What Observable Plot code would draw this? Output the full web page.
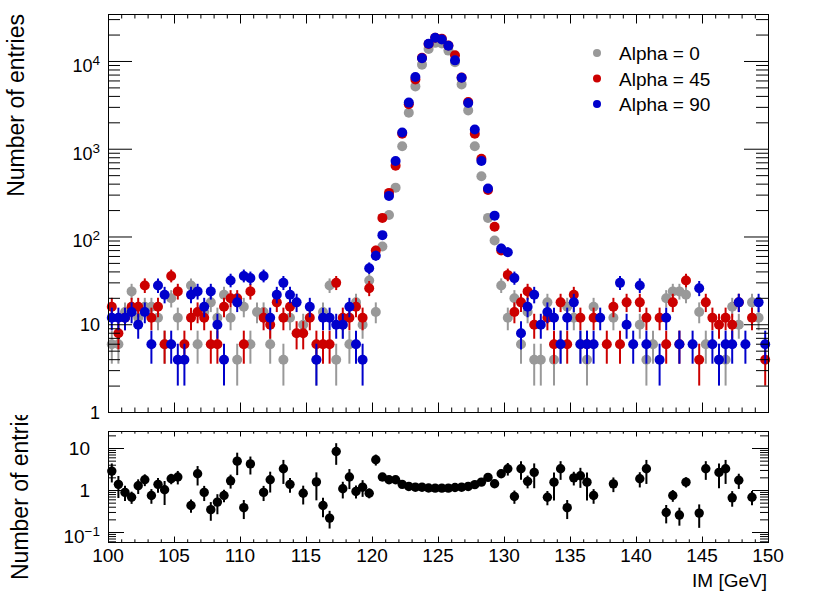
<!DOCTYPE html>
<html><head><meta charset="utf-8">
<script src="https://cdn.jsdelivr.net/npm/d3@7"></script>
<script src="https://cdn.jsdelivr.net/npm/@observablehq/plot@0.6"></script>
<style>
html,body{margin:0;padding:0;background:#fff;}
#chart{position:relative;width:830px;height:596px;overflow:hidden;background:#fff;}
#chart svg{position:absolute;left:0;display:block;overflow:hidden;}
</style></head><body><div id="chart"></div>
<script>
// ---------- data ----------
const binCenters = d3.range(100, 150, 0.5).map(x => x + 0.25);
const seriesNames = ["Alpha = 0", "Alpha = 45", "Alpha = 90"];
const seriesColors = ["#999999", "#cc0000", "#0000cc"];
const alpha0 = [
  6, 6, 14, 24, 12, 16, 16, 12, 6, 20,
  12, null, 28, 6, 14, 18, 12, 22, 12, 4,
  16, 6, 14, 14, 6, null, 4, 12, null, 10,
  null, 4, 14, 28, 4, 10, 6, 18, 10, 32,
  14, 78, 178, 365, 1080, 2600, 5200, 9200, 13900, 16300,
  16000, 13300, 9800, 5480, 2770, 1080, 493, 165, 91, 28,
  12, 20, 6, 14, 4, 4, 18, 4, 6, 16,
  12, 6, 4, 16, null, null, 12, null, null, null,
  10, 4, 6, null, 20, 24, 24, 22, null, 14,
  6, null, 4, 4, 16, 10, null, 18, 12, null
];
const alpha45 = [
  16, 8, 12, 16, 16, 28, 12, 16, 6, 36,
  24, 6, 12, 14, 12, 6, 6, 16, 20, 20,
  6, 24, null, 12, 10, 18, 12, 16, 8, 8,
  12, 6, 6, 6, 30, 12, 12, 16, 12, 26,
  70, 165, 318, 650, 1500, 3250, 6250, 11000, 15800, 18600,
  18200, 15200, 11800, 6580, 3460, 1500, 780, 343, 131, 70,
  37, 14, 18, 24, 10, null, 12, 6, 18, 6,
  22, 12, 6, 12, null, 6, 16, 6, 18, null,
  18, 12, null, 12, 6, 18, 6, 32, null, 4,
  18, 12, 10, 12, 10, 18, null, 12, null, 4
];
const alpha90 = [
  12, 12, 12, 14, 10, 14, 6, 28, 22, 6,
  4, 4, 22, 24, 16, 24, 10, 4, 32, 18,
  36, 34, null, 36, 12, 22, 30, 22, 18, null,
  16, 4, 12, 12, 10, 10, 16, 6, 4, 44,
  61, 105, 294, 736, 1550, 3400, 6640, 10900, 15900, 18600,
  17800, 15100, 10300, 6530, 3360, 1680, 736, 357, 175, 74,
  67, 34, 8, 16, 22, 10, 14, 12, 6, 12,
  18, 6, 6, 6, 12, null, null, 30, 10, 6,
  28, 6, null, 4, 12, null, 6, null, 6, 26,
  null, 6, 4, 6, 6, 18, 6, null, 18, 6
];
const ratio = [
  2.9, 1.4, 0.9, 0.69, 1.3, 1.8, 0.76, 1.4, 1.04, 1.9,
  2.1, null, 0.44, 2.5, 0.9, 0.35, 0.53, 0.76, 1.7, 5.0,
  0.39, 4.3, null, 0.9, 1.8, null, 3.3, 1.4, null, 0.86,
  null, 1.6, 0.44, 0.22, 8.5, 1.1, 2.1, 0.95, 1.2, 0.86,
  5.4, 2.1, 1.8, 1.8, 1.4, 1.25, 1.2, 1.2, 1.15, 1.14,
  1.14, 1.14, 1.18, 1.2, 1.25, 1.38, 1.58, 2.05, 1.45, 2.5,
  3.3, 0.72, 3.3, 1.65, 2.7, null, 0.69, 1.58, 3.3, 0.39,
  2.0, 2.25, 1.58, 0.76, null, null, 1.44, null, null, null,
  1.9, 3.3, null, null, 0.3, 0.76, 0.26, 1.58, null, 0.29,
  3.3, null, 2.7, 3.3, 0.67, 1.75, null, 0.69, null, null
];
const xDomain = [100, 150];
const yTopDomain = [1, 34300];
const yBotDomain = [0.0578, 25.4];
const xMajorTicks = [100, 105, 110, 115, 120, 125, 130, 135, 140, 145, 150];
const xMinorTicks = d3.range(100, 151, 1);
const yTopMajorTicks = [1, 10, 100, 1000, 10000];
const yTopLabels = [["1", ""], ["10", ""], ["10", "2"], ["10", "3"], ["10", "4"]];
const yBotMajorTicks = [0.1, 1, 10];
const yBotLabels = [["10", "\u22121"], ["1", ""], ["10", ""]];
const xTitle = "IM [GeV]";
const yTitle = "Number of entries";

const logMinor = (lo, hi) => {
  const out = [];
  for (let k = -2; k <= 5; k++) for (let m = 2; m <= 9; m++) {
    const v = m * Math.pow(10, k);
    if (v > lo && v < hi) out.push(v);
  }
  return out;
};
const yTopMinorTicks = logMinor(yTopDomain[0], yTopDomain[1]);
const yBotMinorTicks = logMinor(yBotDomain[0], yBotDomain[1]);

// ---------- layout ----------
const W = 830, ML = 108, MR = 62, FW = W - ML - MR;
const topH = 425, topMT = 14, topMB = 13, topFH = topH - topMT - topMB;
const botOffset = 415, botH = 181, botMT = 16, botMB = 54, botFH = botH - botMT - botMB;
const FONT = "'Liberation Sans', Arial, Helvetica, sans-serif";

function ticks(FH, yMaj, yMin, yMajL, yMinL, xMajL, xMinL) {
  return [
    Plot.ruleY(yMaj, {y: d => d, insetRight: FW - yMajL}),
    Plot.ruleY(yMin, {y: d => d, insetRight: FW - yMinL}),
    Plot.ruleY(yMaj, {y: d => d, insetLeft: FW - yMajL}),
    Plot.ruleY(yMin, {y: d => d, insetLeft: FW - yMinL}),
    Plot.ruleX(xMajorTicks, {x: d => d, insetTop: FH - xMajL}),
    Plot.ruleX(xMinorTicks, {x: d => d, insetTop: FH - xMinL}),
    Plot.ruleX(xMajorTicks, {x: d => d, insetBottom: FH - xMajL}),
    Plot.ruleX(xMinorTicks, {x: d => d, insetBottom: FH - xMinL}),
    Plot.frame({stroke: "black"})
  ];
}

// ---------- top panel ----------
const seriesValues = [alpha0, alpha45, alpha90];
const seriesMarks = [];
seriesValues.forEach((vals, k) => {
  const rows = binCenters.map((x, i) => ({x, y: vals[i]})).filter(d => d.y != null);
  seriesMarks.push(Plot.ruleX(rows, {x: "x", y1: d => d.y - Math.sqrt(d.y), y2: d => d.y + Math.sqrt(d.y), stroke: seriesColors[k], strokeWidth: 2}));
  seriesMarks.push(Plot.dot(rows, {x: "x", y: "y", r: 5, fill: seriesColors[k], stroke: "none"}));
});

const topPlot = Plot.plot({
  width: W, height: topH, marginLeft: ML, marginRight: MR, marginTop: topMT, marginBottom: topMB,
  x: {domain: xDomain, axis: null},
  y: {type: "log", domain: yTopDomain, axis: null},
  style: {background: "white", overflow: "hidden"},
  marks: [...seriesMarks, ...ticks(topFH, yTopMajorTicks, yTopMinorTicks, 24, 12, 9.5, 4.5)]
});

// ---------- bottom panel ----------
const ratioRows = binCenters.map((x, i) => {
  const r = ratio[i];
  if (r == null) return null;
  const a = alpha45[i], b = alpha0[i];
  const e = (a && b) ? r * Math.sqrt(1 / a + 1 / b) : 0;
  return {x, r, lo: Math.max(r - e, yBotDomain[0]), hi: r + e};
}).filter(d => d);

const botPlot = Plot.plot({
  width: W, height: botH, marginLeft: ML, marginRight: MR, marginTop: botMT, marginBottom: botMB,
  x: {domain: xDomain, axis: null},
  y: {type: "log", domain: yBotDomain, axis: null},
  style: {background: "transparent", overflow: "hidden"},
  marks: [
    Plot.ruleX(ratioRows, {x: "x", y1: "lo", y2: "hi", stroke: "black", strokeWidth: 2}),
    Plot.dot(ratioRows, {x: "x", y: "r", r: 4.7, fill: "black", stroke: "none"}),
    ...ticks(botFH, yBotMajorTicks, yBotMinorTicks, 16, 8, 5.5, 2.7)
  ]
});

const chart = document.getElementById("chart");
topPlot.style.top = "0px";
botPlot.style.top = botOffset + "px";
chart.appendChild(topPlot);
chart.appendChild(botPlot);

// ---------- texts ----------
function label(svg, x, y, base, sup, anchor, size, supSize) {
  const t = d3.select(svg).append("text")
    .attr("x", x).attr("y", y)
    .attr("text-anchor", anchor)
    .attr("font-family", FONT).attr("font-size", size).attr("fill", "black");
  t.append("tspan").text(base);
  if (sup) t.append("tspan").attr("font-size", supSize).attr("dy", -7).text(sup);
  return t;
}

const tyTop = topPlot.scale("y"), tyBot = botPlot.scale("y"), txBot = botPlot.scale("x");
yTopMajorTicks.forEach((v, i) => {
  const [b, s] = yTopLabels[i];
  label(topPlot, 100, tyTop.apply(v) + (s ? 11 : 7), b, s, "end", 18, 13.5);
});
yBotMajorTicks.forEach((v, i) => {
  const [b, s] = yBotLabels[i];
  label(botPlot, s ? 100 : 90, tyBot.apply(v) + (s ? 11 : 7), b, s, "end", 19, 13.5);
});
xMajorTicks.forEach(v => {
  label(botPlot, txBot.apply(v), 147, String(v), "", "middle", 19, 0);
});
label(botPlot, 767, 172, xTitle, "", "end", 19, 0);

d3.select(topPlot).append("text")
  .attr("transform", "translate(24,14) rotate(-90)")
  .attr("text-anchor", "end").attr("font-family", FONT).attr("font-size", 23).attr("fill", "black")
  .text(yTitle);
d3.select(botPlot).append("text")
  .attr("transform", "translate(28,165) rotate(-90)")
  .attr("text-anchor", "start").attr("font-family", FONT).attr("font-size", 23).attr("fill", "black")
  .text(yTitle);

// legend
const lg = d3.select(topPlot).append("g");
seriesNames.forEach((name, k) => {
  const y = 53 + 25.5 * k;
  lg.append("circle").attr("cx", 597).attr("cy", y).attr("r", 4).attr("fill", seriesColors[k]);
  lg.append("text").attr("x", 619).attr("y", y + 7).attr("text-anchor", "start")
    .attr("font-family", FONT).attr("font-size", 19).attr("fill", "black").text(name);
});
</script></body></html>
